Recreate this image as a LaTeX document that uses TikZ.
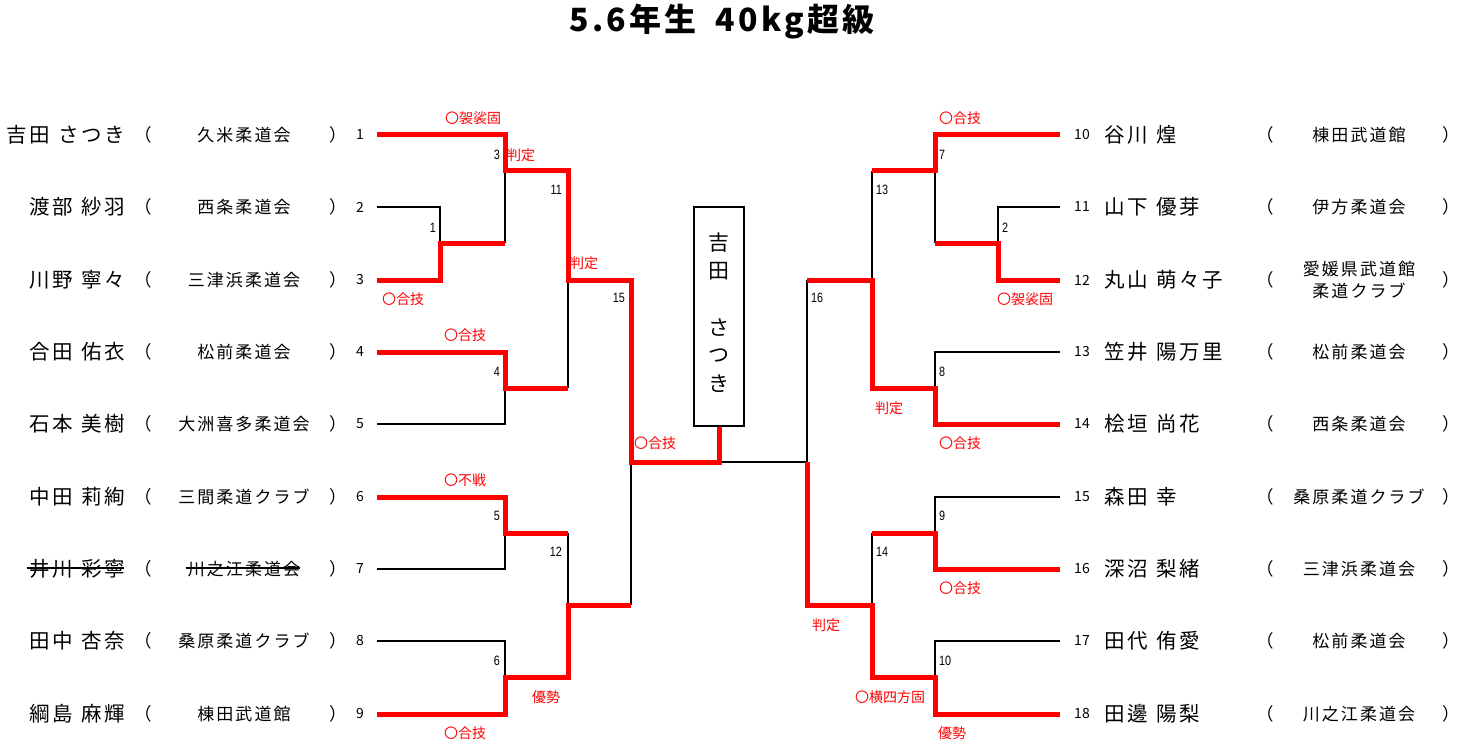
\documentclass[tikz,border=0pt]{standalone}
\usepackage{fontspec}
\setmainfont{Noto Sans CJK JP}
\newfontfamily\narrowfont[FakeStretch=0.8]{Liberation Sans}
\newfontfamily\spacedfont[LetterSpace=12]{Noto Sans CJK JP}
\newfontfamily\titlefont[LetterSpace=10]{Noto Sans CJK JP}
\newcommand{\nmgap}{\hspace{0.42em}}
\tikzset{
  win/.style={red, line width=5pt},
  lose/.style={black, line width=1.2pt},
  nm/.style={font=\spacedfont\fontsize{20.5}{22}\selectfont, inner sep=0pt},
  club/.style={font=\spacedfont\fontsize{17}{22}\selectfont, inner sep=0pt, align=center},
  paren/.style={font=\fontsize{17.5}{20}\selectfont, inner sep=0pt},
  seed/.style={font=\fontsize{14}{14}\selectfont, inner sep=0pt},
  mno/.style={font=\narrowfont\fontsize{13.5}{13.5}\selectfont, inner sep=0pt},
  res/.style={text=red, font=\fontsize{14}{14}\selectfont, inner sep=0pt},
  boxch/.style={font=\fontsize{21}{21}\selectfont, inner sep=0pt},
}
\begin{document}
\begin{tikzpicture}[x=1pt,y=-1pt]
\useasboundingbox (0,0) rectangle (1463,746);
% title
\node[font=\titlefont\bfseries\fontsize{32}{32}\selectfont, inner sep=0pt] (title) at (722,22) {5.6年生\hspace{0.6em}40kg超級};

% left entries
\foreach \i/\y/\n/\c in {
  1/135/{吉田\nmgap さつき}/久米柔道会,
  2/207/{渡部\nmgap 紗羽}/西条柔道会,
  3/280/{川野\nmgap 寧々}/三津浜柔道会,
  4/352/{合田\nmgap 佑衣}/松前柔道会,
  5/424/{石本\nmgap 美樹}/大洲喜多柔道会,
  6/497/{中田\nmgap 莉絢}/三間柔道クラブ,
  7/569/{井川\nmgap 彩寧}/川之江柔道会,
  8/641/{田中\nmgap 杏奈}/桑原柔道クラブ,
  9/714/{綱島\nmgap 麻輝}/棟田武道館}{
  \node[nm, anchor=east] (N\i) at (125,\y) {\n};
  \node[paren] (PL\i) at (143,\y) {（};
  \node[club] (C\i) at (244,\y) {\c};
  \node[paren] (PR\i) at (338,\y) {）};
  \node[seed] (S\i) at (360,\y) {\i};
  \coordinate (s\i) at (377,\y);
}
% strike-through
\draw[line width=1.8pt] ([xshift=-2pt,yshift=1pt]N7.west) -- ([xshift=-1pt,yshift=1pt]N7.east);
\draw[line width=1.8pt] ([xshift=-2pt,yshift=1pt]C7.west) -- ([xshift=0pt,yshift=1pt]C7.east);

% right entries
\foreach \i/\y/\n/\c in {
  10/135/{谷川\nmgap 煌}/棟田武道館,
  11/207/{山下\nmgap 優芽}/伊方柔道会,
  12/280/{丸山\nmgap 萌々子}/{愛媛県武道館\\柔道クラブ},
  13/352/{笠井\nmgap 陽万里}/松前柔道会,
  14/424/{桧垣\nmgap 尚花}/西条柔道会,
  15/497/{森田\nmgap 幸}/桑原柔道クラブ,
  16/569/{深沼\nmgap 梨緒}/三津浜柔道会,
  17/641/{田代\nmgap 侑愛}/松前柔道会,
  18/714/{田邊\nmgap 陽梨}/川之江柔道会}{
  \node[seed] (S\i) at (1082,\y) {\i};
  \node[nm, anchor=west] (N\i) at (1104,\y) {\n};
  \node[paren] (PL\i) at (1265,\y) {（};
  \node[club] (C\i) at (1359,\y) {\c};
  \node[paren] (PR\i) at (1451,\y) {）};
  \coordinate (s\i) at (1060,\y);
}

% winner box
\node[draw, line width=1.2pt, minimum width=50pt, minimum height=219pt, inner sep=0pt] (box) at (719,316.5) {};
\node[boxch] (b1) at (719,243) {吉};
\node[boxch] (b2) at (719,271) {田};
\node[boxch] (b3) at (719,328) {さ};
\node[boxch] (b4) at (719,356) {つ};
\node[boxch] (b5) at (719,384) {き};

% junction coordinates
\coordinate (m1) at (440,243);
\coordinate (m3) at (505,171);
\coordinate (m4) at (505,388);
\coordinate (m5) at (505,533);
\coordinate (m6) at (505,677);
\coordinate (m11) at (568,280);
\coordinate (m12) at (568,605);
\coordinate (m15) at (631,462);
\coordinate (fin) at (720,462);
\coordinate (m16) at (807,462);
\coordinate (m13) at (872,280);
\coordinate (m14) at (872,605);
\coordinate (m7) at (935,171);
\coordinate (m8) at (935,388);
\coordinate (m9) at (935,533);
\coordinate (m10) at (935,677);
\coordinate (m2) at (998,243);

% losing (thin) lines
\draw[lose] (s2) -| (m1);
\draw[lose] (m3) -- (m3 |- m1);
\draw[lose] (s5) -| (m4);
\draw[lose] (s7) -| (m5);
\draw[lose] (s8) -| (m6);
\draw[lose] (m11) -- (m11 |- m4);
\draw[lose] (m12 |- m5) -- (m12);
\draw[lose] (m15) -- (m15 |- m12);
\draw[lose] (fin) -- (m16);
\draw[lose] (s11) -| (m2);
\draw[lose] (m7) -- (m7 |- m2);
\draw[lose] (m13 |- m7) -- (m13);
\draw[lose] (m16 |- m13) -- (m16);
\draw[lose] (s13) -| (m8);
\draw[lose] (s15) -| (m9);
\draw[lose] (m14 |- m9) -- (m14);
\draw[lose] (s17) -| (m10);

% winning (red) lines
\draw[win] (s1) -| (m3) -| (m11) -| (m15) -| (box.south);
\draw[win] (s3) -| (m1) -- (m1 -| m3);
\draw[win] (s4) -| (m4) -- (m4 -| m11);
\draw[win] (s6) -| (m5) -- (m5 -| m12);
\draw[win] (s9) -| (m6) -| (m12) -- (m12 -| m15);
\draw[win] (s10) -| (m7) -- (m7 -| m13);
\draw[win] (s12) -| (m2) -- (m2 -| m7);
\draw[win] (s14) -| (m8) -| (m13) -- (m13 -| m16);
\draw[win] (s16) -| (m9) -- (m9 -| m14);
\draw[win] (s18) -| (m10) -| (m14) -| (m16);

% match numbers
\node[mno, anchor=east] (k3) at (500,155) {3};
\node[mno, anchor=east] (k1) at (436,228) {1};
\node[mno, anchor=east] (k11) at (562,190) {11};
\node[mno, anchor=east] (k15) at (625,298) {15};
\node[mno, anchor=east] (k4) at (500,372) {4};
\node[mno, anchor=east] (k5) at (500,516) {5};
\node[mno, anchor=east] (k12) at (562,552) {12};
\node[mno, anchor=east] (k6) at (500,661) {6};
\node[mno, anchor=west] (k7) at (939,155) {7};
\node[mno, anchor=west] (k2) at (1002,228) {2};
\node[mno, anchor=west] (k13) at (876,190) {13};
\node[mno, anchor=west] (k16) at (811,298) {16};
\node[mno, anchor=west] (k8) at (939,372) {8};
\node[mno, anchor=west] (k9) at (939,516) {9};
\node[mno, anchor=west] (k14) at (876,552) {14};
\node[mno, anchor=west] (k10) at (939,661) {10};

% results
\node[res] (r1) at (473,118) {〇袈裟固};
\node[res, anchor=west] (r2) at (507,155) {判定};
\node[res] (r3) at (403,299) {〇合技};
\node[res, anchor=west] (r4) at (570,263) {判定};
\node[res] (r5) at (465,335) {〇合技};
\node[res] (r6) at (465,480) {〇不戦};
\node[res] (r7) at (465,733) {〇合技};
\node[res] (r8) at (546,697) {優勢};
\node[res, anchor=west] (r9) at (634,443) {〇合技};
\node[res] (r10) at (960,118) {〇合技};
\node[res] (r11) at (1025,299) {〇袈裟固};
\node[res] (r12) at (889,408) {判定};
\node[res] (r13) at (960,443) {〇合技};
\node[res] (r14) at (960,588) {〇合技};
\node[res] (r15) at (826,625) {判定};
\node[res] (r16) at (890,697) {〇横四方固};
\node[res] (r17) at (952,733) {優勢};
\end{tikzpicture}
\end{document}
